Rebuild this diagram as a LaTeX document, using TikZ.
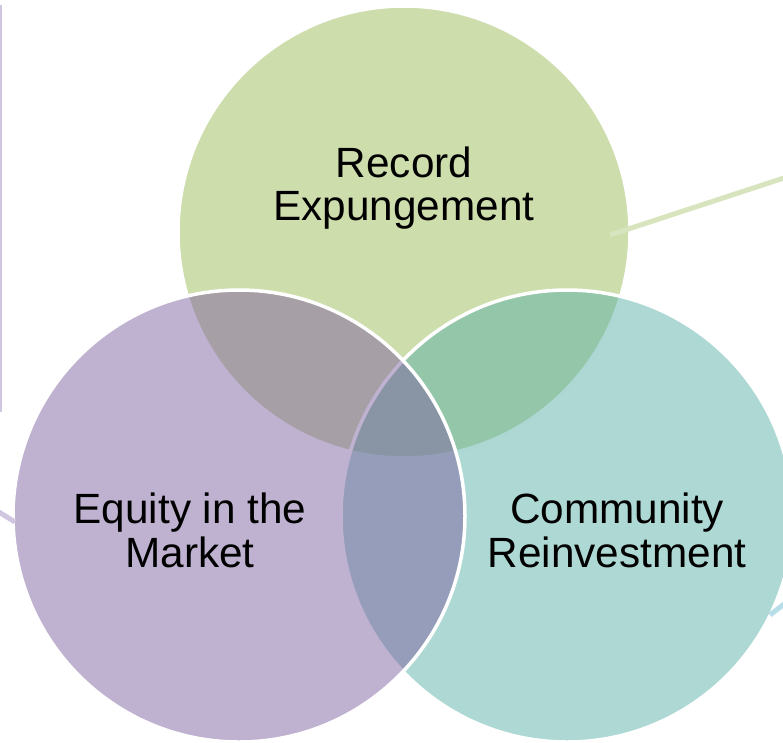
\documentclass[tikz,border=0pt]{standalone}
\usepackage{fontspec}
\setmainfont{Liberation Sans}
\definecolor{cgreen}{RGB}{155,187,89}
\definecolor{cpurple}{RGB}{128,100,162}
\definecolor{cteal}{RGB}{93,177,167}
\definecolor{lgreen}{RGB}{215,228,189}
\definecolor{lpurple}{RGB}{208,198,224}
\definecolor{lteal}{RGB}{183,222,232}
\begin{document}
\begin{tikzpicture}[x=1pt,y=-1pt,
  venn/.style={circle, minimum size=452pt, inner sep=0pt, draw=white, line width=3.5pt, fill opacity=0.5},
  lbl/.style={align=center, font=\fontsize{42.3}{43.8}\selectfont, text=black},
  ray/.style={line width=5pt}]
\useasboundingbox (0,0) rectangle (783,742);
\node[venn, fill=cgreen] (g) at (404,232) {};
\node[venn, fill=cteal] (t) at (567,516) {};
\node[venn, fill=cpurple] (p) at (239,516) {};
\coordinate (ga) at (610,235);
\coordinate (gb) at (790,176);
\coordinate (pa) at (1,5);
\coordinate (pb) at (1,412);
\coordinate (pc) at (-6,509);
\coordinate (pd) at (15,522);
\coordinate (ta) at (770,615);
\coordinate (tb) at (788,601);
\draw[ray, lgreen] (ga) -- (gb);
\draw[lpurple, line width=2pt] (pa) -- (pb);
\draw[ray, lpurple] (pc) -- (pd);
\draw[ray, lteal] (ta) -- (tb);
\node[lbl] (tg) at (404,188) {Record\\Expungement};
\node[lbl] (tp) at (190,530) {Equity in the\\Market};
\node[lbl] (tt) at (617,530) {Community\\Reinvestment};
\end{tikzpicture}
\end{document}
